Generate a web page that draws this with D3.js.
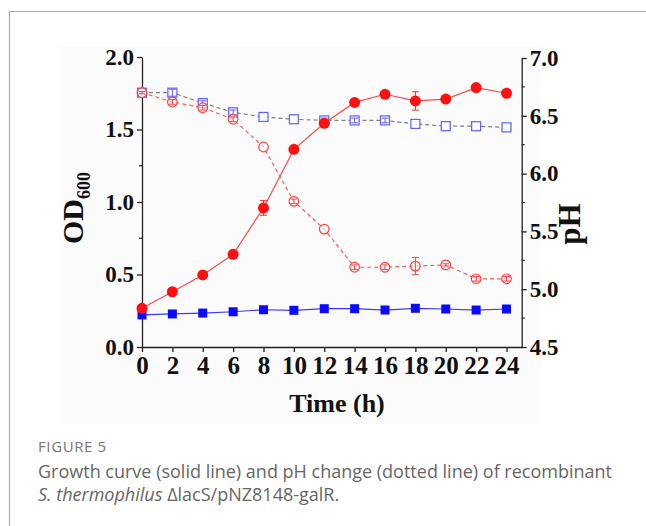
<!DOCTYPE html>
<html><head><meta charset="utf-8">
<script src="https://cdn.jsdelivr.net/npm/d3@7/dist/d3.min.js"></script>
<style>
html,body{margin:0;padding:0;background:#fff;}
svg{display:block;}
</style></head>
<body>
<svg id="c" width="646" height="526"></svg>
<script>
const times = [0,2,4,6,8,10,12,14,16,18,20,22,24];
const odRed   = [0.267,0.381,0.497,0.639,0.959,1.363,1.543,1.687,1.743,1.697,1.710,1.789,1.750];
const odRedErr= [0.01,0.01,0.01,0.01,0.05,0.01,0.01,0.01,0.01,0.063,0.01,0.01,0.01];
const odBlue  = [0.221,0.228,0.234,0.243,0.257,0.253,0.264,0.264,0.255,0.267,0.262,0.255,0.262];
const odBlueErr=[0.005,0.005,0.005,0.005,0.005,0.005,0.005,0.005,0.005,0.005,0.005,0.005,0.005];
const phRed   = [6.70,6.62,6.57,6.47,6.23,5.76,5.52,5.19,5.19,5.20,5.21,5.09,5.09];
const phRedErr= [0.01,0.02,0.02,0.02,0.0,0.02,0.0,0.02,0.02,0.075,0.01,0.02,0.02];
const phBlue  = [6.70,6.70,6.61,6.53,6.49,6.47,6.46,6.46,6.46,6.43,6.41,6.41,6.40];
const phBlueErr=[0.01,0.03,0.02,0.02,0.0,0.0,0.02,0.02,0.02,0.0,0.0,0.0,0.0];
const xTicks  = [0,2,4,6,8,10,12,14,16,18,20,22,24];
const odTicks = [0,0.5,1.0,1.5,2.0];
const odMinor = [0.25,0.75,1.25,1.75];
const phTicks = [4.5,5.0,5.5,6.0,6.5,7.0];
const phMinor = [4.75,5.25,5.75,6.25,6.75];

const svg = d3.select("#c");
// figure frame (top + left rule)
svg.append("line").attr("x1",9).attr("x2",646).attr("y1",11.5).attr("y2",11.5).attr("stroke","#aaa").attr("stroke-width",1.2);
svg.append("line").attr("x1",9.5).attr("x2",9.5).attr("y1",11).attr("y2",526).attr("stroke","#aaa").attr("stroke-width",1.2);
// faint chart-image background
svg.append("rect").attr("x",60).attr("y",46).attr("width",480).attr("height",378).attr("fill","#fbfbfb");

const x = d3.scaleLinear().domain([0,25]).range([142,521.7]);
const yL = d3.scaleLinear().domain([0,2]).range([347,57]);
const yR = d3.scaleLinear().domain([4.5,7]).range([347,58]);

const serif = "'Liberation Serif','Times New Roman',serif";

function styleAxis(g, fs){
  g.selectAll("path").attr("stroke","#222").attr("stroke-width",1.3);
  g.selectAll("line").attr("stroke","#222").attr("stroke-width",1.3);
  g.selectAll("text").attr("font-family",serif).attr("font-weight","bold").attr("font-size",fs).attr("fill","#111");
}

const gL = svg.append("g").attr("transform","translate(142,0)");
gL.call(d3.axisLeft(yL).tickValues(odTicks).tickFormat(d3.format(".1f")).tickSize(5).tickSizeOuter(0).tickPadding(3));
styleAxis(gL,23);
gL.selectAll(".minor").data(odMinor).enter().append("line").attr("x1",0).attr("x2",-3).attr("y1",d=>yL(d)).attr("y2",d=>yL(d)).attr("stroke","#222").attr("stroke-width",1.2);

const gR = svg.append("g").attr("transform","translate(521.7,0)");
gR.call(d3.axisRight(yR).tickValues(phTicks).tickFormat(d3.format(".1f")).tickSize(5).tickSizeOuter(0).tickPadding(3));
styleAxis(gR,23);
gR.selectAll(".minor").data(phMinor).enter().append("line").attr("x1",0).attr("x2",3).attr("y1",d=>yR(d)).attr("y2",d=>yR(d)).attr("stroke","#222").attr("stroke-width",1.2);

const gB = svg.append("g").attr("transform","translate(0,347)");
gB.call(d3.axisBottom(x).tickValues(xTicks).tickFormat(d3.format("d")).tickSize(5).tickSizeOuter(0).tickPadding(4));
styleAxis(gB,25);

// axis titles
const od = svg.append("text").attr("transform","translate(83,208) rotate(-90)").attr("text-anchor","middle")
  .attr("font-family",serif).attr("font-weight","bold").attr("fill","#111");
od.append("tspan").attr("font-size",30).text("OD");
od.append("tspan").attr("font-size",18).attr("dy",7).text("600");

svg.append("text").attr("transform","translate(580,224) rotate(-90)").attr("text-anchor","middle")
  .attr("font-family",serif).attr("font-weight","bold").attr("font-size",31).attr("fill","#111").text("pH");

svg.append("text").attr("x",337).attr("y",412).attr("text-anchor","middle")
  .attr("font-family",serif).attr("font-weight","bold").attr("font-size",26).attr("fill","#111").text("Time (h)");

// lines
const lineL = d3.line().x((d,i)=>x(times[i])).y(d=>yL(d));
const lineR = d3.line().x((d,i)=>x(times[i])).y(d=>yR(d));
svg.append("path").attr("d",lineR(phBlue)).attr("fill","none").attr("stroke","#808080").attr("stroke-width",1.2).attr("stroke-dasharray","4,3");
svg.append("path").attr("d",lineR(phRed)).attr("fill","none").attr("stroke","#ff5a5a").attr("stroke-width",1.2).attr("stroke-dasharray","4,3");
svg.append("path").attr("d",lineL(odBlue)).attr("fill","none").attr("stroke","#3a3aff").attr("stroke-width",1.2);
svg.append("path").attr("d",lineL(odRed)).attr("fill","none").attr("stroke","#ff4a4a").attr("stroke-width",1.2);

function errBars(vals, errs, y, color){
  const g = svg.append("g").attr("stroke",color).attr("stroke-width",1);
  vals.forEach((v,i)=>{
    const e = errs[i]; if(!e) return;
    const cx = x(times[i]);
    g.append("line").attr("x1",cx).attr("x2",cx).attr("y1",y(v-e)).attr("y2",y(v+e));
    g.append("line").attr("x1",cx-3.5).attr("x2",cx+3.5).attr("y1",y(v-e)).attr("y2",y(v-e));
    g.append("line").attr("x1",cx-3.5).attr("x2",cx+3.5).attr("y1",y(v+e)).attr("y2",y(v+e));
  });
}

// pH markers (open)
svg.append("g").selectAll("rect").data(phBlue).enter().append("rect")
  .attr("x",(d,i)=>x(times[i])-4.5).attr("y",d=>yR(d)-4.5).attr("width",9).attr("height",9)
  .attr("fill","#fbfbfb").attr("stroke","#6060ff").attr("stroke-width",1.2);
errBars(phBlue, phBlueErr, yR, "#6060ff");
svg.append("g").selectAll("circle").data(phRed).enter().append("circle")
  .attr("cx",(d,i)=>x(times[i])).attr("cy",d=>yR(d)).attr("r",4.8)
  .attr("fill","#fbfbfb").attr("fill-opacity",0.6).attr("stroke","#ff4040").attr("stroke-width",1.2);
errBars(phRed, phRedErr, yR, "#ff4040");

// OD markers (filled)
errBars(odBlue, odBlueErr, yL, "#0000ff");
svg.append("g").selectAll("rect").data(odBlue).enter().append("rect")
  .attr("x",(d,i)=>x(times[i])-4.5).attr("y",d=>yL(d)-4.5).attr("width",9).attr("height",9)
  .attr("fill","#0a0aff");
errBars(odRed, odRedErr, yL, "#ff2020");
svg.append("g").selectAll("circle").data(odRed).enter().append("circle")
  .attr("cx",(d,i)=>x(times[i])).attr("cy",d=>yL(d)).attr("r",5.5)
  .attr("fill","#ff1010");

// caption
const sans = "'Open Sans','Noto Sans',sans-serif";
svg.append("text").attr("x",38).attr("y",452).attr("font-family",sans).attr("font-size",15).attr("letter-spacing",0.6).attr("fill","#777").text("FIGURE 5");
svg.append("text").attr("x",38).attr("y",478).attr("font-family",sans).attr("font-size",18).attr("fill","#666")
  .text("Growth curve (solid line) and pH change (dotted line) of recombinant");
const l2 = svg.append("text").attr("x",38).attr("y",501).attr("font-family",sans).attr("font-size",18).attr("fill","#666");
l2.append("tspan").attr("font-style","italic").text("S. thermophilus");
l2.append("tspan").text(" \u0394lacS/pNZ8148-galR.");
</script>
</body></html>
